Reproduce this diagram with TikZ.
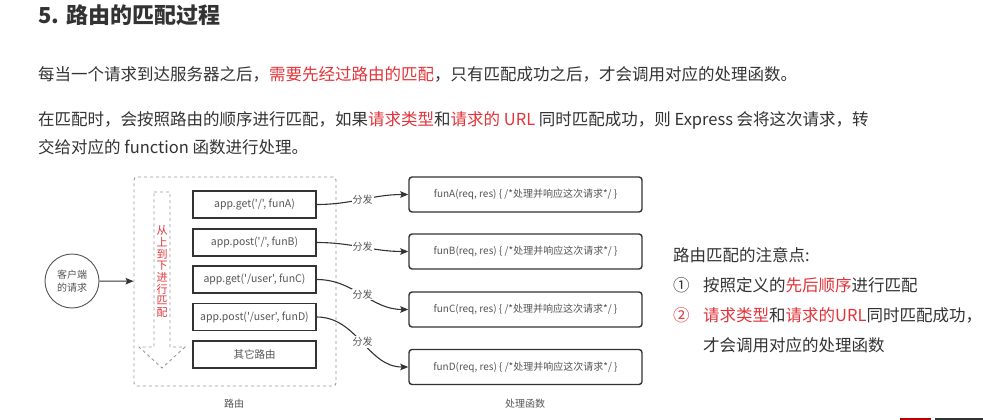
\documentclass[tikz,border=0pt]{standalone}
\usepackage{fontspec}
\setmainfont{Noto Sans CJK SC}
\newfontfamily\rtf{Noto Sans CJK SC}
\usetikzlibrary{arrows.meta}
\definecolor{txt}{HTML}{333333}
\definecolor{hl}{HTML}{E3343A}
\definecolor{dg}{HTML}{555555}
\definecolor{ln}{HTML}{333333}
\definecolor{dashgray}{HTML}{999999}
\tikzset{
  para/.style={anchor=base west,inner sep=0,font=\fontsize{16.5}{20}\selectfont,text=txt},
  route/.style={draw=ln,line width=1.4pt,minimum width=123pt,minimum height=27pt,inner sep=0,font=\rtf\fontsize{10.5}{12}\selectfont,text=dg},
  func/.style={draw=ln,line width=1.4pt,rounded corners=3pt,minimum width=233pt,minimum height=35pt,inner sep=0,font=\fontsize{10}{12}\selectfont,text=dg},
  conn/.style={draw=ln,line width=1.1pt,-{Stealth[length=8pt,width=6.5pt,inset=1.5pt]}},
  lbl/.style={fill=white,inner sep=1pt,font=\fontsize{10}{12}\selectfont,text=dg},
  small/.style={inner sep=0,font=\fontsize{10}{12}\selectfont,text=dg}
}
\begin{document}
\begin{tikzpicture}[x=1pt,y=-1pt]
\useasboundingbox (0,0) rectangle (983,420);
\fill[white] (0,0) rectangle (983,420);
% title and paragraphs
\node[anchor=base west,inner sep=0,font=\fontsize{22}{26}\selectfont\bfseries,text=txt] (title) at (38,24) {5. 路由的匹配过程};
\node[para] (p1) at (38,81) {每当一个请求到达服务器之后，\textcolor{hl}{需要先经过路由的匹配}，只有匹配成功之后，才会调用对应的处理函数。};
\node[para] (p2a) at (38,125) {在匹配时，会按照路由的顺序进行匹配，如果\textcolor{hl}{请求类型}和\textcolor{hl}{请求的 URL} 同时匹配成功，则 Express 会将这次请求，转};
\node[para] (p2b) at (38,153) {交给对应的 function 函数进行处理。};
% client
\node[circle,draw=dg,line width=0.9pt,minimum size=54pt,inner sep=0,align=center,font=\fontsize{10}{13}\selectfont,text=dg] (cl) at (72,281) {客户端\\的请求};
% dashed route container
\node[draw=dashgray,dashed,line width=0.9pt,rounded corners=3pt,minimum width=202pt,minimum height=209pt,inner sep=0] (rbox) at (235,281.5) {};
\draw[conn] (cl) -- (rbox);
% hollow arrow
\draw[dashgray,dashed,line width=0.9pt] (154,192) -- (170,192) -- (170,347) -- (185,347) -- (162,368) -- (139,347) -- (154,347) -- cycle;
\node[inner sep=0,align=center,text=hl,font=\fontsize{11}{11.7}\selectfont] (vt) at (162,271.5) {从\\上\\到\\下\\进\\行\\匹\\配};
% routes
\node[route] (rA) at (254.5,204.5) {app.get('/', funA)};
\node[route] (rB) at (254.5,242.5) {app.post('/', funB)};
\node[route] (rC) at (254.5,279.5) {app.get('/user', funC)};
\node[route] (rD) at (254.5,317) {app.post('/user', funD)};
\node[route] (rE) at (254.5,354.5) {其它路由};
% functions
\node[func] (fA) at (525.5,194.5) {funA(req, res) \{ /*处理并响应这次请求*/ \}};
\node[func] (fB) at (525.5,251.5) {funB(req, res) \{ /*处理并响应这次请求*/ \}};
\node[func] (fC) at (525.5,309.5) {funC(req, res) \{ /*处理并响应这次请求*/ \}};
\node[func] (fD) at (525.5,367) {funD(req, res) \{ /*处理并响应这次请求*/ \}};
% connectors
\draw[conn] (rA.east) to[out=0,in=180] node[lbl] {分发} (fA.west);
\draw[conn] (rB.east) to[out=0,in=180] node[lbl] {分发} (fB.west);
\draw[conn] (rC.east) to[out=0,in=180] node[lbl] {分发} (fC.west);
\draw[conn] (rD.east) to[out=0,in=180] node[lbl] {分发} (fD.west);
% bottom labels
\node[small] (lr) at (234,404) {路由};
\node[small] (lf) at (525,404) {处理函数};
% notes
\node[para] (n0) at (673,261) {路由匹配的注意点:};
\node[para] (n1) at (673,291) {①};
\node[para] (n1t) at (703,291) {按照定义的\textcolor{hl}{先后顺序}进行匹配};
\node[para,text=hl] (n2) at (673,321) {②};
\node[para] (n2t) at (703,321) {\textcolor{hl}{请求类型}和\textcolor{hl}{请求的URL}同时匹配成功，};
\node[para] (n3) at (703,351) {才会调用对应的处理函数};
% progress bar
\fill[red!75!black] (900,417.5) rectangle (931,420);
\fill[ln] (935,417.5) rectangle (983,420);
\end{tikzpicture}
\end{document}
